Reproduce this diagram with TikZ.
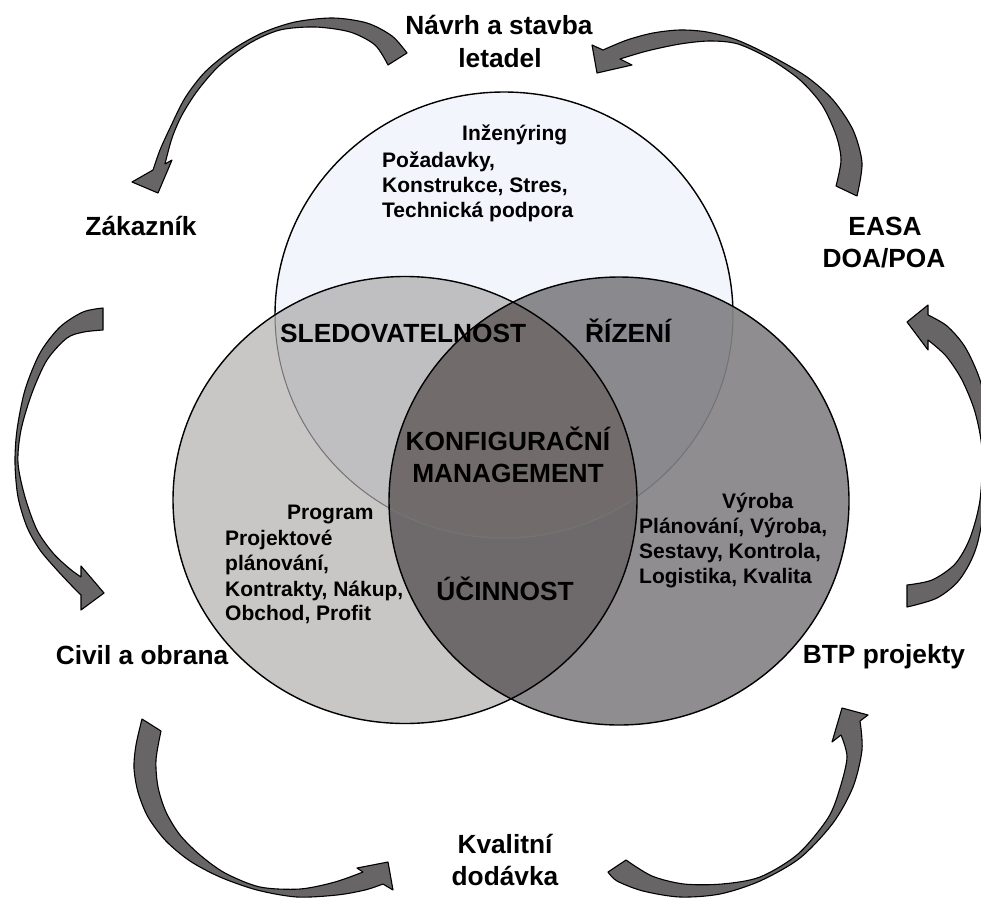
\documentclass[tikz,border=0pt]{standalone}
\usepackage{fontspec}
\setmainfont{Liberation Sans}
\definecolor{cT}{HTML}{F2F5FC}
\definecolor{cL}{HTML}{C9C6C6}
\definecolor{cR}{HTML}{8F8D8F}
\definecolor{cTL}{HTML}{BFBFC1}
\definecolor{cTR}{HTML}{8A898D}
\definecolor{cLR}{HTML}{6E6A6B}
\definecolor{cTLR}{HTML}{716C6B}
\definecolor{arrowgrey}{HTML}{686566}
\tikzset{
  big/.style={font=\fontsize{26.3}{31}\selectfont\bfseries, inner sep=0pt, anchor=base},
  bigw/.style={big, anchor=base west},
  small/.style={font=\fontsize{21}{25}\selectfont\bfseries, inner sep=0pt, anchor=base west},
  flow/.style={fill=arrowgrey, draw=black, line width=1.1pt, line join=round},
  rim/.style={draw=black, line width=1.4pt},
}
\begin{document}
\begin{tikzpicture}[x=1pt, y=-1pt]
\clip (0,0) rectangle (981,899);
\fill[white] (0,0) rectangle (981,899);

% the three sets
\fill[cT] (504,315) ellipse [x radius=229, y radius=223];
\draw[rim] (504,315) ellipse [x radius=229, y radius=223];
\fill[cL] (405,500) ellipse [x radius=232, y radius=223.5];
\fill[cR] (619,501) ellipse [x radius=230, y radius=224];
\begin{scope}
  \clip (405,500) ellipse [x radius=232, y radius=223.5];
  \fill[cLR] (619,501) ellipse [x radius=230, y radius=224];
\end{scope}
\begin{scope}
  \clip (504,315) ellipse [x radius=229, y radius=223];
  \fill[cTL] (405,500) ellipse [x radius=232, y radius=223.5];
  \fill[cTR] (619,501) ellipse [x radius=230, y radius=224];
  \clip (405,500) ellipse [x radius=232, y radius=223.5];
  \fill[cTLR] (619,501) ellipse [x radius=230, y radius=224];
\end{scope}
% lower rim of the top set, seen through the other two
\begin{scope}
  \clip (405,500) ellipse [x radius=232, y radius=223.5];
  \draw[draw=black!55, line width=1pt] (504,315) ellipse [x radius=229, y radius=223];
\end{scope}
\begin{scope}
  \clip (619,501) ellipse [x radius=230, y radius=224];
  \draw[draw=black!55, line width=1pt] (504,315) ellipse [x radius=229, y radius=223];
\end{scope}
\draw[rim] (405,500) ellipse [x radius=232, y radius=223.5];
\draw[rim] (619,501) ellipse [x radius=230, y radius=224];

% curved cycle arrows
\draw[flow] plot[smooth] coordinates {(407,53) (392,36) (367,23) (333,18) (295,22) (262,33) (232,50) (205,72) (185,98) (170,128) (160,150) (153,170)}
  -- (132,182) -- (158,193) -- (172,160) -- (165,164)
  -- plot[smooth] coordinates {(165,164) (172,138) (182,115) (198,90) (220,65) (250,43) (280,30) (315,27) (350,32) (375,45) (388,65)} -- cycle;

\draw[flow] plot[smooth] coordinates {(857,196) (862,163) (853,130) (833,100) (807,77) (773,57) (737,40) (707,32) (680,30) (653,33) (627,40) (603,50)}
  -- (592,45) -- (597,73) -- (632,65) -- (620,59)
  -- plot[smooth] coordinates {(620,59) (647,51) (680,44) (710,41) (738,44) (770,59) (800,80) (822,105) (836,135) (841,160) (836,186)} -- cycle;

\draw[flow] plot[smooth] coordinates {(907,607) (937,598) (960,579) (977,545) (988,480) (988,420) (980,380) (965,347) (947,326) (928,315)}
  -- (928,305) -- (907,322) -- (928,350) -- (928,340)
  -- plot[smooth] coordinates {(928,340) (946,356) (962,380) (975,412) (982,450) (980,500) (970,538) (955,564) (932,580) (907,585)} -- cycle;

\draw[flow] plot[smooth] coordinates {(608,872) (617,881) (643,891) (680,897) (720,894) (760,881) (800,858) (833,823) (853,787) (862,750) (860,721)}
  -- (868,715) -- (842,708) -- (832,742) -- (841,735)
  -- plot[smooth] coordinates {(841,735) (847,757) (840,788) (828,818) (798,854) (760,877) (722,884) (684,884) (652,876) (626,860)} -- cycle;

\draw[flow] plot[smooth] coordinates {(142,719) (136,745) (134,768) (138,792) (148,817) (166,841) (190,861) (220,877) (257,890) (297,897) (337,895) (365,890) (383,884)}
  -- (393,890) -- (388,862) -- (357,868) -- (363,872)
  -- plot[smooth] coordinates {(363,872) (335,882) (300,889) (260,887) (225,873) (200,855) (180,835) (166,812) (158,787) (156,760) (161,731)} -- cycle;

\draw[flow] plot[smooth] coordinates {(103,308) (83,312) (60,327) (40,353) (25,390) (17,430) (15,463) (18,497) (27,527) (40,550) (57,570) (72,586) (81,595)}
  -- (81,610) -- (104,593) -- (81,566) -- (81,577)
  -- plot[smooth] coordinates {(81,577) (70,569) (53,553) (37,530) (25,497) (18,463) (21,430) (32,393) (47,360) (67,338) (84,332) (103,330)} -- cycle;

% outer labels
\node[big] (nav1) at (499,35) {Návrh a stavba};
\node[big] (nav2) at (500,67) {letadel};
\node[big] (zak) at (141,235) {Zákazník};
\node[big] (easa1) at (885,235) {EASA};
\node[big] (easa2) at (884,267) {DOA/POA};
\node[big] (civ) at (142,664) {Civil a obrana};
\node[big] (btp) at (884,663) {BTP projekty};
\node[big] (kv1) at (505,853) {Kvalitní};
\node[big] (kv2) at (505,885) {dodávka};

% set labels
\node[small] (inz) at (462,140) {Inženýring};
\node[small] (inz2) at (382,167) {Požadavky,};
\node[small] (inz3) at (382,192) {Konstrukce, Stres,};
\node[small] (inz4) at (382,217) {Technická podpora};

\node[small] (prg) at (287,519) {Program};
\node[small] (prg2) at (225,545) {Projektové};
\node[small] (prg3) at (225,570) {plánování,};
\node[small] (prg4) at (225,596) {Kontrakty, Nákup,};
\node[small] (prg5) at (225,620) {Obchod, Profit};

\node[small] (vyr) at (722,508) {Výroba};
\node[small] (vyr2) at (639,533) {Plánování, Výroba,};
\node[small] (vyr3) at (639,558) {Sestavy, Kontrola,};
\node[small] (vyr4) at (639,583) {Logistika, Kvalita};

% overlap labels
\node[bigw] (sled) at (280,342) {SLEDOVATELNOST};
\node[bigw] (riz) at (585,342) {ŘÍZENÍ};
\node[big] (km1) at (508,450) {KONFIGURAČNÍ};
\node[big] (km2) at (508,482) {MANAGEMENT};
\node[big] (uc) at (505,600) {ÚČINNOST};
\end{tikzpicture}
\end{document}
